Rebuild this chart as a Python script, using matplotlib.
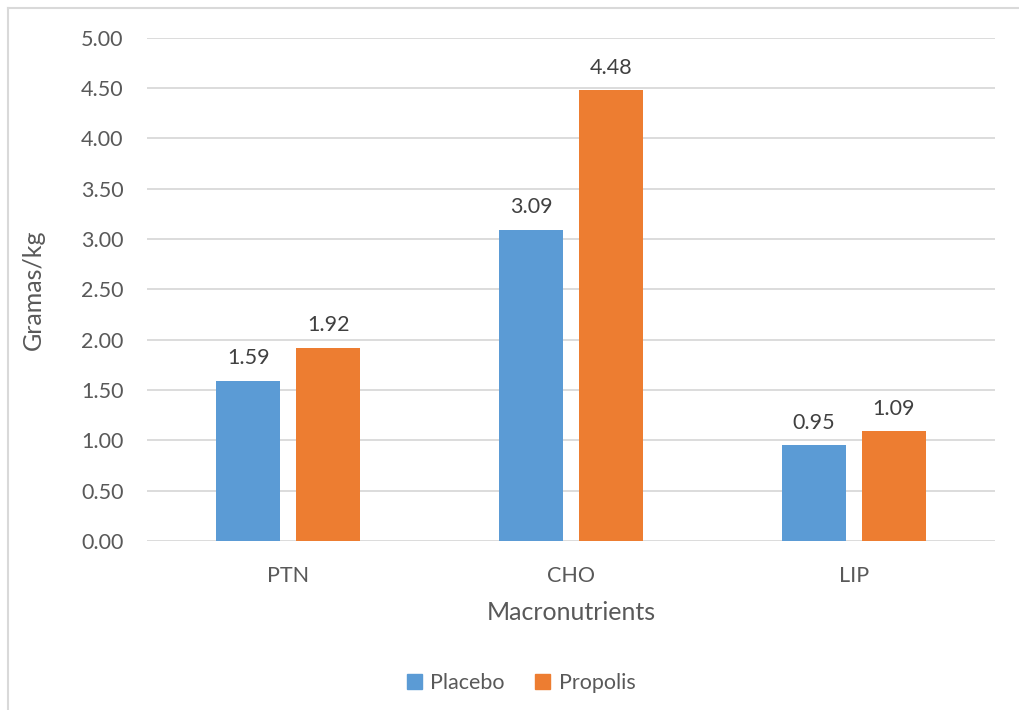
import matplotlib.pyplot as plt
from matplotlib.lines import Line2D
from matplotlib.patches import Patch
import numpy as np

plt.rcParams['font.family'] = ['Lato', 'DejaVu Sans']

categories = ["PTN", "CHO", "LIP"]
placebo = [1.59, 3.09, 0.95]
propolis = [1.92, 4.48, 1.09]
yticks = [0, 0.5, 1.0, 1.5, 2.0, 2.5, 3.0, 3.5, 4.0, 4.5, 5.0]

blue = "#5b9bd5"
orange = "#ed7d31"
grey = "#595959"

W, H = 1019, 710
fig = plt.figure(figsize=(W / 100, H / 100), dpi=100)
ax = fig.add_axes([147 / W, 1 - 541 / H, (995 - 147) / W, (541 - 37.7) / H])

x = np.arange(len(categories))
bw = 0.226
off = 0.1415
b1 = ax.bar(x - off, placebo, bw, color=blue, zorder=3)
b2 = ax.bar(x + off, propolis, bw, color=orange, zorder=3)

for bars, vals in ((b1, placebo), (b2, propolis)):
    for r, v in zip(bars, vals):
        ax.annotate(f"{v:.2f}", (r.get_x() + r.get_width() / 2, v),
                    xytext=(0, 9), textcoords="offset points",
                    ha="center", va="bottom", fontsize=15.5, color="#404040")

ax.set_xlim(-0.5, 2.5)
ax.set_ylim(0, 5)
ax.set_yticks(yticks)
ax.set_yticklabels([f"{t:.2f}" for t in yticks])
ax.set_xticks(x)
ax.set_xticklabels(categories)
ax.tick_params(axis="both", length=0, labelsize=15.5, colors=grey)
ax.tick_params(axis="y", pad=17)
ax.tick_params(axis="x", pad=18)
ax.grid(axis="y", color="#d9d9d9", linewidth=1.3, zorder=0)
for s in ax.spines.values():
    s.set_visible(False)

ax.set_xlabel("Macronutrients", fontsize=18, color=grey, va="center")
ax.set_ylabel("Gramas/kg", fontsize=18, color=grey, va="center")
ax.xaxis.set_label_coords(0.5, (541 - 612) / 503.3)
ax.yaxis.set_label_coords((33 - 147) / 848, 0.5)

handles = [Patch(color=blue, label="Placebo"), Patch(color=orange, label="Propolis")]
fig.legend(handles=handles, loc="center", bbox_to_anchor=(521 / W, 1 - 683 / H),
           ncol=2, frameon=False, fontsize=15.5, labelcolor=grey,
           handlelength=0.7, handleheight=0.7, handletextpad=0.4, columnspacing=1.4)

# chart area border (top and left edges)
fig.add_artist(Line2D([8 / W, 1], [1 - 8 / H, 1 - 8 / H], color="#d9d9d9", lw=1.5,
                      transform=fig.transFigure))
fig.add_artist(Line2D([8 / W, 8 / W], [0, 1 - 8 / H], color="#d9d9d9", lw=1.5,
                      transform=fig.transFigure))

fig.savefig("out.png", dpi=100, facecolor="white")
